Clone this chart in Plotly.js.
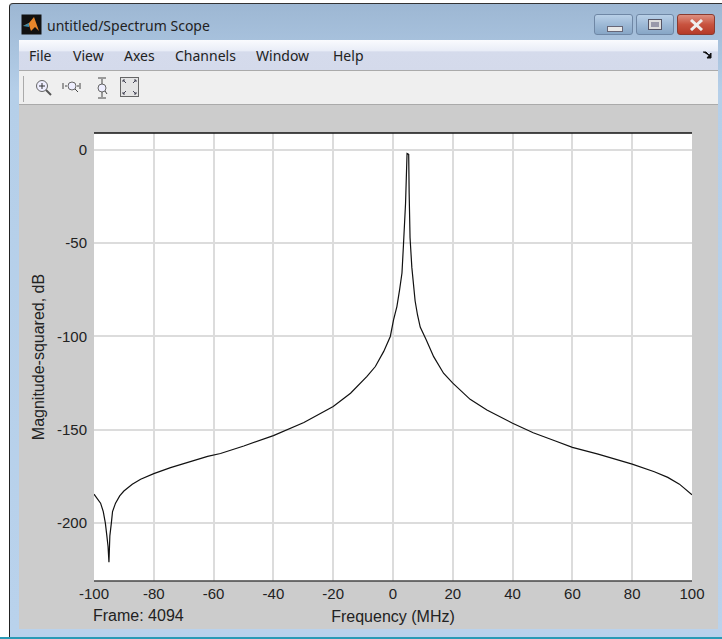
<!DOCTYPE html>
<html><head><meta charset="utf-8">
<script src="https://cdn.plot.ly/plotly-3.0.1.min.js"></script>
<style>
html,body{margin:0;padding:0;background:#fff;overflow:hidden}
#win{position:absolute;left:0;top:0;width:722px;height:639px;overflow:hidden;font-family:"Noto Sans","Open Sans",sans-serif;color:#222}
.abs{position:absolute}
#frame{left:9px;top:3px;width:713px;height:634px;background:linear-gradient(#9db7d3,#b5cfe9 14%,#b9d2ec);border-top:1px solid #333;border-left:1px solid #222;border-radius:4px 0 0 0;box-sizing:border-box}
#teal{left:0;top:637px;width:722px;height:2px;background:#2a9ab5}
#menu{left:19px;top:40px;width:699px;height:31px;background:linear-gradient(#fafbfe,#e9edf7 35%,#d5dbec 40%,#d4daeb);border-bottom:1px solid #aaa;box-sizing:border-box}
#tool{left:19px;top:71px;width:699px;height:34px;background:#efefef;border-bottom:1px solid #aaa;box-sizing:border-box}
#gray{left:19px;top:105px;width:699px;height:524px;background:#cccccc}
#plot{left:0;top:0;width:722px;height:639px}
.m{position:absolute;top:47px;font-size:14px;line-height:18px}
#ttl{left:47px;top:17px;font-size:14px;line-height:18px}
.btn{position:absolute;top:14px;height:21px;border-radius:3px;border:1px solid #6f87a5;box-sizing:border-box;background:linear-gradient(#b9d0e8,#9db9d6 50%,#87a6c6)}
</style></head><body>
<div id="win">
<div class="abs" id="frame"></div>
<div class="abs" id="teal"></div>
<div class="abs" id="menu"></div>
<div class="abs" id="tool"></div>
<div class="abs" id="gray"></div>
<svg class="abs" style="left:21px;top:14px" width="22" height="22" viewBox="0 0 22 22">
<rect width="20" height="20" x="0.5" y="0.5" fill="#111"/>
<path d="M2 12 L8 9 L13 3 L18 17 L14 13 L10 17 L8 11 Z" fill="#e8862a"/>
<path d="M2 12 L8 9 L8 13 Z" fill="#3d8aa8"/>
</svg>
<div class="abs" id="ttl">untitled/Spectrum Scope</div>
<div class="btn" style="left:594px;width:39px"><div class="abs" style="left:12px;top:11px;width:14px;height:4px;background:#e8e8e8;border:1px solid #667"></div></div>
<div class="btn" style="left:636px;width:38px"><div class="abs" style="left:12px;top:5px;width:12px;height:9px;background:#99a;border:2px solid #ddd;box-sizing:border-box;outline:1px solid #556"></div></div>
<div class="btn" style="left:677px;width:38px;border-color:#8a3b30;background:linear-gradient(#dd8f80,#c8533f 50%,#b53a28)"><svg class="abs" style="left:11px;top:4px" width="15" height="12"><path d="M2 1 L13 11 M13 1 L2 11" stroke="#eee" stroke-width="3"/></svg></div>
<div class="m" style="left:29px">File</div>
<div class="m" style="left:73px">View</div>
<div class="m" style="left:124px">Axes</div>
<div class="m" style="left:175px">Channels</div>
<div class="m" style="left:256px">Window</div>
<div class="m" style="left:333px">Help</div>
<svg class="abs" style="left:703px;top:51px" width="9" height="8"><path d="M0 1 L3 1 L8 6 M8 2 L8 7 L4 7 Z" stroke="#111" fill="#111"/></svg>
<svg class="abs" style="left:20px;top:74px" width="125" height="30" viewBox="0 0 125 30">
<line x1="3.5" y1="2" x2="3.5" y2="28" stroke="#aaa"/>
<circle cx="22" cy="12" r="5.5" fill="#eef" stroke="#666"/><path d="M19 12H25M22 9V15" stroke="#333"/><path d="M26 16L31 21" stroke="#555" stroke-width="2"/>
<circle cx="52" cy="12" r="4" fill="#eef" stroke="#666"/><path d="M43 9V15M45 12H47M57 12H59M60 9V15M55 15L58 18" stroke="#444"/>
<circle cx="82" cy="14" r="4" fill="#eef" stroke="#666"/><path d="M78 4H86M82 5V10M78 24H86M82 18V23M85 17L87 20" stroke="#444"/>
<rect x="100.5" y="3.5" width="18" height="19" fill="#e4e4e4" stroke="#666"/><path d="M103 6L106 9M103 6H105M103 6V8M116 6L113 9M116 6H114M116 6V8M103 20L106 17M103 20H105M103 20V18M116 20L113 17M116 20H114M116 20V18" stroke="#445"/>
</svg>
<div class="abs" id="plot"></div>
</div>
<script>
var frequencyMHz = [-100,-98.9,-97.8,-96.9,-96.2,-95.7,-95.3,-95,-94.7,-94.2,-93.8,-92.8,-91.4,-90,-87.2,-84.4,-80,-74.4,-67.7,-62,-57.7,-49.9,-40,-29.8,-20,-14.2,-8.7,-5.9,-3.1,-1.4,-0.9,0.2,1.3,2.2,3,3.5,4.2,4.7,5.25,5.4,5.7,6.3,6.9,7.4,8.2,9.1,11.1,13.6,16.9,20,25.8,31.4,40,46.9,54.1,60,68.6,80,87.4,91.9,95.8,100];
var magnitudeDb = [-184.5,-186.6,-189.3,-193.8,-200,-206.8,-212.5,-221,-206.8,-200,-193.8,-189.3,-185.4,-182.8,-179.2,-176.5,-173.5,-170.3,-167.1,-164.2,-162.7,-158.7,-153.1,-146.1,-137.5,-130.4,-121.4,-116.1,-108,-101.8,-100,-91,-84,-75,-66,-51,-28.6,-2,-2.5,-23,-47,-63,-73.3,-81,-88.5,-95,-101.8,-110.8,-119.7,-125,-133.7,-139.4,-146.5,-151.6,-155.9,-159.4,-163,-168.4,-172.5,-175.5,-179.1,-184.8];
var xTicks = [-100,-80,-60,-40,-20,0,20,40,60,80,100];
var xTickLabels = ['-100','-80','-60','-40','-20','0','20','40','60','80','100'];
var yTicks = [0,-50,-100,-150,-200];
var yTickLabels = ['0','-50','-100','-150','-200'];
var xTitle = 'Frequency (MHz)';
var yTitle = 'Magnitude-squared, dB';
var frameLabel = 'Frame: 4094';

var fam = '"Liberation Sans", Arial, sans-serif';
var tickFont = {family:fam, size:15, color:'#222'};
var titleFont = {family:fam, size:16, color:'#222'};
Plotly.newPlot('plot',[{
  x:frequencyMHz, y:magnitudeDb, type:'scatter', mode:'lines',
  line:{color:'#111',width:1.2,shape:'linear'}, hoverinfo:'skip'
}],{
  width:722,height:639,
  margin:{l:94,r:30,t:133,b:58,pad:0},
  paper_bgcolor:'rgba(0,0,0,0)',plot_bgcolor:'#fff',showlegend:false,font:tickFont,
  xaxis:{range:[-100,100],tickvals:xTicks,ticktext:xTickLabels,ticks:'',showgrid:true,gridcolor:'#dcdcdc',gridwidth:2,zeroline:false,
    showline:false,mirror:false,tickfont:tickFont,ticklabelstandoff:2,
    title:{text:xTitle,font:titleFont,standoff:9}},
  yaxis:{range:[-231,9],tickvals:yTicks,ticktext:yTickLabels,ticks:'',showgrid:true,gridcolor:'#dcdcdc',gridwidth:2,zeroline:false,
    showline:false,tickfont:tickFont,ticklabelstandoff:6,
    title:{text:yTitle,font:titleFont,standoff:8}},
  shapes:[
    {type:'line',xref:'paper',yref:'paper',x0:0,x1:1,y0:1,y1:1,line:{color:'#111',width:1.5}},
    {type:'line',xref:'paper',yref:'paper',x0:0,x1:1,y0:0,y1:0,line:{color:'#444',width:1.5}}
  ],
  annotations:[{xref:'paper',yref:'paper',x:0,y:0,xanchor:'left',yanchor:'top',yshift:-24,xshift:-3,showarrow:false,text:frameLabel,font:titleFont}]
},{displayModeBar:false,staticPlot:true});
</script>
</body></html>
